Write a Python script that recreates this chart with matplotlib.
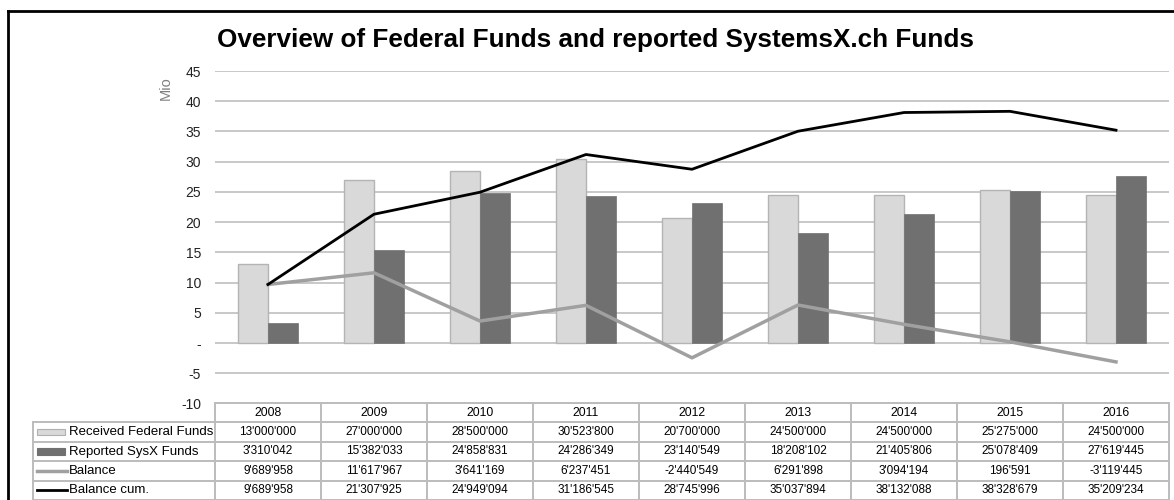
import matplotlib.pyplot as plt
import numpy as np
from matplotlib.lines import Line2D
from matplotlib.patches import Rectangle

plt.rcParams['font.family'] = ['Liberation Sans', 'DejaVu Sans']

# Data (CHF)
years = ['2008', '2009', '2010', '2011', '2012', '2013', '2014', '2015', '2016']
received = [13000000, 27000000, 28500000, 30523800, 20700000, 24500000, 24500000, 25275000, 24500000]
reported = [3310042, 15382033, 24858831, 24286349, 23140549, 18208102, 21405806, 25078409, 27619445]
balance = [9689958, 11617967, 3641169, 6237451, -2440549, 6291898, 3094194, 196591, -3119445]
balance_cum = [9689958, 21307925, 24949094, 31186545, 28745996, 35037894, 38132088, 38328679, 35209234]
row_labels = ['Received Federal Funds', 'Reported SysX Funds', 'Balance', 'Balance cum.']

c_light = '#d9d9d9'
c_dark = '#707070'
c_bal = '#a0a0a0'
c_cum = '#000000'
c_grid = '#c4c4c4'

W, H = 1174, 500
fig = plt.figure(figsize=(W / 100, H / 100), dpi=100)

def fx(px):
    return px / W

def fy(py):
    return 1 - py / H

# main chart area
ax = fig.add_axes([fx(215), fy(403.5), fx(1169) - fx(215), fy(71) - fy(403.5)])
x = np.arange(len(years))
bw = 30 / 106
mio = lambda v: np.array(v) / 1e6

ax.bar(x - bw / 2, mio(received), bw, color=c_light, edgecolor='#b4b4b4', linewidth=1, zorder=2)
ax.bar(x + bw / 2, mio(reported), bw, color=c_dark, edgecolor=c_dark, linewidth=0.5, zorder=2)
ax.plot(x, mio(balance), color=c_bal, linewidth=2.5, zorder=3)
ax.plot(x, mio(balance_cum), color=c_cum, linewidth=2, zorder=4)

ax.set_xlim(-0.5, len(years) - 0.5)
ax.set_ylim(-10, 45)
yt = np.arange(-10, 50, 5)
ax.set_yticks(yt)
ax.set_yticklabels(['-' if v == 0 else str(v) for v in yt], fontsize=10, color='#222222')
ax.set_xticks([])
ax.tick_params(axis='y', length=0, pad=10)
ax.yaxis.grid(True, color=c_grid, linewidth=1.3, zorder=0)
ax.set_axisbelow(True)
for s in ax.spines.values():
    s.set_visible(False)

fig.text(fx(166), fy(88), 'Mio', rotation=90, ha='center', va='center', fontsize=10.5, color='#7f7f7f')
fig.text(fx(596), fy(40), 'Overview of Federal Funds and reported SystemsX.ch Funds',
         ha='center', va='center', fontsize=18.8, fontweight='bold')

# data table below chart
tab = fig.add_axes([fx(33), fy(500), fx(1169) - fx(33), fy(403) - fy(500)])
lab_w = (215 - 33) / 106
x0 = -0.5 - lab_w
tab.set_xlim(x0, len(years) - 0.5)
tab.set_ylim(5, 0)
tab.axis('off')

lc = '#bcbcbc'
lwid = 1.4
# horizontal lines
tab.plot([-0.5, len(years) - 0.5], [0, 0], color=lc, lw=lwid, clip_on=False)
for r in range(1, 6):
    tab.plot([x0, len(years) - 0.5], [r, r], color=lc, lw=lwid, clip_on=False)
# vertical lines
tab.plot([x0, x0], [1, 5], color=lc, lw=lwid, clip_on=False)
for i in range(len(years) + 1):
    tab.plot([i - 0.5, i - 0.5], [0, 5], color=lc, lw=lwid, clip_on=False)

fmt = lambda v: f"{v:,}".replace(',', "'")
for i, yr in enumerate(years):
    tab.text(i, 0.5, yr, ha='center', va='center', fontsize=8.8)
rows = [received, reported, balance, balance_cum]
for r, vals in enumerate(rows):
    for i, v in enumerate(vals):
        tab.text(i, r + 1.5, fmt(v), ha='center', va='center', fontsize=8.5)
    tab.text(x0 + 36 / 106, r + 1.5, row_labels[r], ha='left', va='center', fontsize=9.5)

# legend keys in label column
k0, k1 = x0 + 4 / 106, x0 + 32 / 106
tab.add_patch(Rectangle((k0, 1.33), k1 - k0, 0.34, facecolor=c_light, edgecolor='#b0b0b0', lw=0.8))
tab.add_patch(Rectangle((k0, 2.33), k1 - k0, 0.34, facecolor=c_dark, edgecolor=c_dark, lw=0.8))
tab.plot([k0, k1 + 2 / 106], [3.5, 3.5], color=c_bal, lw=2.5)
tab.plot([k0, k1 + 2 / 106], [4.5, 4.5], color=c_cum, lw=2)

# outer frame
fig.add_artist(Line2D([fx(8), fx(8)], [fy(11), 0], color='black', lw=2))
fig.add_artist(Line2D([fx(8), 1], [fy(11), fy(11)], color='black', lw=2))

fig.savefig('out.png', dpi=100)
